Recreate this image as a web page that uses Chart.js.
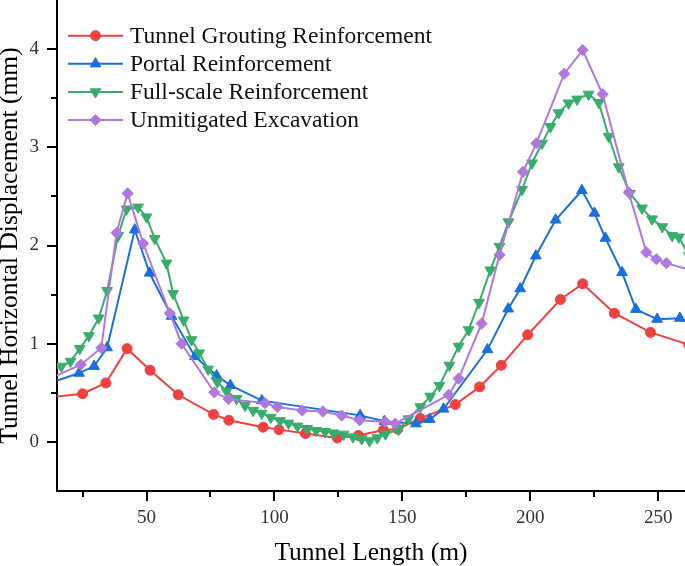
<!DOCTYPE html>
<html>
<head>
<meta charset="utf-8">
<script src="https://cdn.jsdelivr.net/npm/chart.js@4.4.1/dist/chart.umd.min.js"></script>
<style>
  html, body { margin: 0; padding: 0; background: #fff; }
</style>
</head>
<body>
<canvas id="chart" width="685" height="566"></canvas>
<script>
// ── Data ────────────────────────────────────────────────────────────────────

const groutX = [10, 25, 34.1, 42.4, 51.4, 62.4, 76.2, 82.2, 95.6, 101.8,
    112.1, 124.6, 132.8, 142.6, 148.2, 157, 170.7, 180.2, 188.7, 199,
    211.8, 220.5, 232.9, 247, 262];
const groutY = [0.45, 0.49, 0.60, 0.95, 0.73, 0.48, 0.28, 0.22, 0.15, 0.125,
    0.085, 0.04, 0.065, 0.12, 0.13, 0.24, 0.38, 0.56, 0.78, 1.09,
    1.45, 1.61, 1.31, 1.115, 0.99];

const portalX = [10, 23.6, 29.5, 34.6, 45.4, 51.2, 59.8, 68.9, 77.4, 82.8,
    95.1, 133.5, 143, 155.3, 160.7, 166.1, 183.3, 191.4, 196.1, 202.2,
    209.9, 220.2, 225.1, 229.4, 235.9, 241.3, 249.6, 258.5, 264];
const portalY = [0.58, 0.70, 0.77, 0.96, 2.16, 1.72, 1.28, 0.87, 0.675, 0.575,
    0.42, 0.27, 0.21, 0.185, 0.23, 0.335, 0.94, 1.355, 1.56, 1.895,
    2.26, 2.56, 2.33, 2.075, 1.725, 1.35, 1.25, 1.26, 1.2];

const fullX = [11, 16.7, 20.3, 23.9, 27.5, 31.3, 34.6, 38.9, 42.2, 46.7,
    50, 53.2, 57.8, 60.4, 64.5, 67.6, 70.6, 74.1, 77.7, 81.3,
    85.2, 88.5, 91.7, 95, 98.6, 102.2, 105.5, 109, 112.8, 116.3,
    119.8, 123, 127, 130.7, 134.1, 137.2, 140.2, 143.4, 148.5, 152.4,
    157, 160.9, 164.5, 168.4, 172, 175.9, 180, 184.4, 188, 191.5,
    196.8, 200.7, 204.6, 207.9, 211.1, 215, 218.3, 222.8, 226.8, 230.7,
    234.6, 239, 243.7, 247.6, 251.6, 255.5, 258.1, 262];
const fullY = [0.72, 0.77, 0.82, 0.95, 1.08, 1.26, 1.54, 2.1, 2.37, 2.39,
    2.29, 2.07, 1.82, 1.51, 1.24, 1.04, 0.905, 0.74, 0.61, 0.515,
    0.44, 0.37, 0.32, 0.29, 0.25, 0.215, 0.19, 0.16, 0.135, 0.115,
    0.105, 0.09, 0.078, 0.05, 0.03, 0.01, 0.04, 0.08, 0.125, 0.234,
    0.356, 0.464, 0.573, 0.78, 0.973, 1.14, 1.42, 1.75, 1.99, 2.24,
    2.57, 2.84, 3.04, 3.21, 3.35, 3.45, 3.49, 3.54, 3.455, 3.11,
    2.80, 2.53, 2.38, 2.27, 2.19, 2.10, 2.085, 1.9];

const bareX = [10, 24.3, 32.3, 38.3, 42.6, 48.7, 59.1, 63.7, 76.5, 82.1,
    96.3, 101.1, 110.9, 118.9, 126.3, 133.3, 143.3, 147.2, 168.1, 172,
    181, 188, 197.2, 202.4, 213.3, 220.5, 228.3, 238.5, 245.4, 249.3,
    253.2, 264];
const bareY = [0.62, 0.786, 0.956, 2.13, 2.53, 2.02, 1.31, 1.0, 0.505, 0.437,
    0.395, 0.356, 0.32, 0.31, 0.268, 0.22, 0.205, 0.186, 0.48, 0.645,
    1.205, 1.905, 2.75, 3.04, 3.75, 3.99, 3.54, 2.54, 1.93, 1.86,
    1.82, 1.74];

const xMajor = [50, 100, 150, 200, 250];
const xMinor = [25, 75, 125, 175, 225];
const yMajor = [0, 1, 2, 3, 4];
const yMinor = [0.5, 1.5, 2.5, 3.5];

// ── Chart ───────────────────────────────────────────────────────────────────

const SERIF = '"Liberation Serif", "Times New Roman", serif';

function toPoints(xs, ys) {
    return xs.map((x, i) => ({ x, y: ys[i] }));
}

function series(label, xs, ys, color, style, radius, rotation, order) {
    return {
        label,
        data: toPoints(xs, ys),
        borderColor: color,
        backgroundColor: color,
        borderWidth: 2,
        pointStyle: style,
        pointRadius: radius,
        pointRotation: rotation,
        pointBackgroundColor: color,
        pointBorderColor: color,
        pointBorderWidth: 1,
        pointHoverRadius: radius,
        tension: 0,
        clip: 0,
        order,
    };
}

// short outward ticks between the labelled ones
const minorTicks = {
    id: 'minorTicks',
    afterDraw(chart) {
        const { ctx, chartArea, scales: { x, y } } = chart;
        ctx.save();
        ctx.strokeStyle = '#000';
        ctx.lineWidth = 2;
        ctx.beginPath();
        xMinor.forEach(v => {
            const px = Math.round(x.getPixelForValue(v));
            ctx.moveTo(px, chartArea.bottom);
            ctx.lineTo(px, chartArea.bottom + 6);
        });
        yMinor.forEach(v => {
            const py = Math.round(y.getPixelForValue(v));
            ctx.moveTo(chartArea.left, py);
            ctx.lineTo(chartArea.left - 6, py);
        });
        ctx.stroke();
        ctx.restore();
    },
};

// legend drawn inside the plot, line + marker samples
const insideLegend = {
    id: 'insideLegend',
    afterDatasetsDraw(chart) {
        const { ctx, chartArea } = chart;
        const x0 = chartArea.left + 11;
        const len = 55;
        ctx.save();
        chart.data.datasets.forEach((ds, i) => {
            const cy = chartArea.top + 35.7 + i * 28.1;
            ctx.strokeStyle = ds.borderColor;
            ctx.fillStyle = ds.borderColor;
            ctx.lineWidth = 2;
            ctx.beginPath();
            ctx.moveTo(x0, cy);
            ctx.lineTo(x0 + len, cy);
            ctx.stroke();
            ctx.lineWidth = 1;
            Chart.helpers.drawPoint(ctx, {
                pointStyle: ds.pointStyle,
                radius: ds.pointRadius,
                rotation: ds.pointRotation,
                borderWidth: 1,
            }, x0 + len / 2, cy);
            ctx.fillStyle = '#111';
            ctx.font = '23.5px ' + SERIF;
            ctx.textAlign = 'left';
            ctx.textBaseline = 'middle';
            ctx.fillText(ds.label, x0 + len + 7, cy + 1);
        });
        ctx.restore();
    },
};

new Chart(document.getElementById('chart'), {
    type: 'line',
    data: {
        datasets: [
            series('Tunnel Grouting Reinforcement', groutX, groutY, '#F14040', 'circle', 5, 0, 4),
            series('Portal Reinforcement', portalX, portalY, '#1A6FDF', 'triangle', 6.2, 0, 3),
            series('Full-scale Reinforcement', fullX, fullY, '#37AD6B', 'triangle', 6.2, 180, 2),
            series('Unmitigated Excavation', bareX, bareY, '#B177DE', 'rectRot', 5.6, 0, 1),
        ],
    },
    options: {
        responsive: false,
        animation: false,
        layout: { padding: 0, autoPadding: false },
        plugins: {
            legend: { display: false },
            tooltip: { enabled: false },
        },
        scales: {
            x: {
                type: 'linear',
                min: 15,
                max: 260.5,
                afterBuildTicks: s => { s.ticks = xMajor.map(v => ({ value: v })); },
                afterFit: s => { s.height = 75; s.paddingLeft = 0; s.paddingRight = 0; },
                grid: { drawOnChartArea: false, drawTicks: true, tickLength: 10, lineWidth: 2, tickWidth: 2, tickColor: '#000' },
                border: { display: true, color: '#000', width: 2 },
                ticks: {
                    padding: 6,
                    color: '#333',
                    maxRotation: 0,
                    autoSkip: false,
                    font: { family: SERIF, size: 19 },
                    callback: v => String(v),
                },
                title: {
                    display: true,
                    text: 'Tunnel Length (m)',
                    color: '#000',
                    font: { family: SERIF, size: 25.5, lineHeight: 0.8 },
                    padding: { top: 0, bottom: 3 },
                },
            },
            y: {
                type: 'linear',
                min: -0.5,
                max: 4.5,
                afterBuildTicks: s => { s.ticks = yMajor.map(v => ({ value: v })); },
                afterFit: s => { s.width = 57; s.paddingTop = 0; s.paddingBottom = 0; },
                grid: { drawOnChartArea: false, drawTicks: true, tickLength: 10, lineWidth: 2, tickWidth: 2, tickColor: '#000' },
                border: { display: true, color: '#000', width: 2 },
                ticks: {
                    padding: 8,
                    color: '#333',
                    font: { family: SERIF, size: 19 },
                    callback: v => String(v),
                },
                title: {
                    display: true,
                    text: 'Tunnel Horizontal Displacement (mm)',
                    color: '#000',
                    font: { family: SERIF, size: 25.5, lineHeight: 0.8 },
                    padding: { top: 0, bottom: 0 },
                },
            },
        },
    },
    plugins: [minorTicks, insideLegend],
});
</script>
</body>
</html>
